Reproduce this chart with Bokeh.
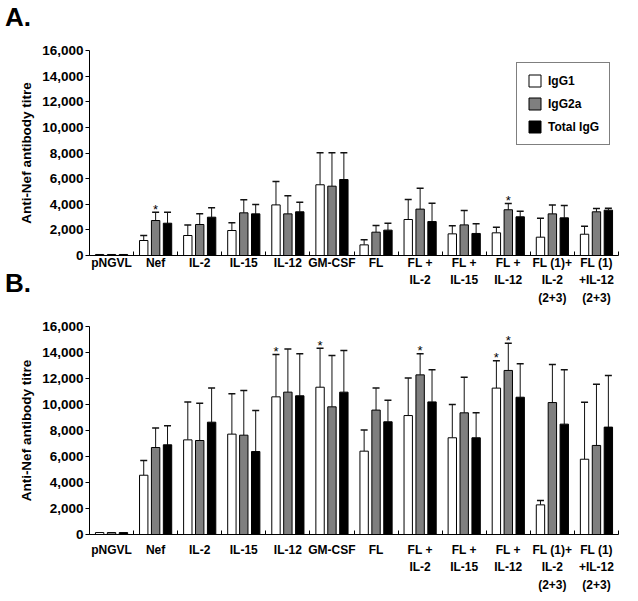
from bokeh.plotting import figure
from bokeh.models import (ColumnDataSource, Whisker, TeeHead, Legend, LegendItem,
                          FixedTicker, NumeralTickFormatter, Range1d, Div)
from bokeh.layouts import column
from bokeh.embed import file_html
from bokeh.resources import INLINE
from bokeh.core.properties import value

categories = ["pNGVL", "Nef", "IL-2", "IL-15", "IL-12", "GM-CSF", "FL",
              "FL +\nIL-2", "FL +\nIL-15", "FL +\nIL-12",
              "FL (1)+\nIL-2\n(2+3)", "FL (1)\n+IL-12\n(2+3)"]
series = ["IgG1", "IgG2a", "Total IgG"]
colors = ["#ffffff", "#7f7f7f", "#000000"]

# Panel A: means and upper SD
a_igg1 = [80, 1170, 1560, 1950, 3950, 5520, 830, 2810, 1690, 1770, 1430, 1660]
a_igg2a = [80, 2730, 2420, 3330, 3250, 5410, 1820, 3620, 2390, 3570, 3250, 3410]
a_total = [80, 2520, 2990, 3250, 3410, 5930, 1980, 2650, 1720, 3020, 2940, 3540]
a_igg1_err = [0, 390, 830, 600, 1830, 2500, 390, 1560, 630, 440, 1480, 630]
a_igg2a_err = [0, 650, 830, 1020, 1410, 2610, 520, 1630, 1120, 490, 700, 260]
a_total_err = [0, 860, 730, 730, 750, 2090, 540, 1430, 750, 440, 960, 150]
a_stars = [(1, 1), (9, 1)]  # (group index, series index)

# Panel B
b_igg1 = [150, 4560, 7280, 7720, 10590, 11330, 6410, 9150, 7440, 11260, 2280, 5790]
b_igg2a = [150, 6690, 7230, 7640, 10950, 9820, 9570, 12280, 9360, 12620, 10150, 6850]
b_total = [150, 6900, 8640, 6380, 10670, 10950, 8670, 10200, 7440, 10560, 8490, 8260]
b_igg1_err = [0, 1130, 2920, 3100, 3260, 3000, 1620, 2880, 2560, 2100, 340, 4390]
b_igg2a_err = [0, 1510, 2870, 3440, 3310, 3950, 1690, 1620, 2740, 2100, 2930, 4710]
b_total_err = [0, 1460, 2620, 3160, 3230, 3200, 1660, 2470, 1920, 2570, 4180, 3970]
b_stars = [(4, 0), (5, 0), (7, 1), (9, 0), (9, 1)]

y_ticks = [0, 2000, 4000, 6000, 8000, 10000, 12000, 14000, 16000]
panel_titles = ["A.", "B."]

FONT = "Liberation Sans"
OFFS = [-0.27, 0.0, 0.27]
BAR_W = 0.19


def make_panel(vals, errs, stars, width, height, mb_left, mb_right, mb_top, mb_bottom,
               label_standoff, with_legend):
    p = figure(width=width, height=height, output_backend="svg", toolbar_location=None,
               x_range=Range1d(0, len(categories)), y_range=Range1d(0, 16000),
               min_border_left=mb_left, min_border_right=mb_right,
               min_border_top=mb_top, min_border_bottom=mb_bottom)
    p.outline_line_color = None
    p.xgrid.visible = False
    p.ygrid.visible = False
    p.background_fill_color = "white"
    p.border_fill_alpha = 0.0

    renderers = []
    for s, (v, e) in enumerate(zip(vals, errs)):
        xs = [i + 0.5 + OFFS[s] for i in range(len(categories))]
        src = ColumnDataSource(dict(x=xs, top=v))
        r = p.vbar(x="x", top="top", width=BAR_W, source=src, fill_color=colors[s],
                   line_color="black", line_width=1)
        renderers.append(r)
        wx = [x for x, ee in zip(xs, e) if ee > 0]
        wl = [vv for vv, ee in zip(v, e) if ee > 0]
        wu = [vv + ee for vv, ee in zip(v, e) if ee > 0]
        wsrc = ColumnDataSource(dict(base=wx, lower=wl, upper=wu))
        w = Whisker(base="base", lower="lower", upper="upper", source=wsrc,
                    dimension="height", line_color="#111111", line_width=1,
                    upper_head=TeeHead(size=7, line_color="#111111", line_width=1.5),
                    lower_head=None)
        p.add_layout(w)

    sx = [i + 0.5 + OFFS[s] for i, s in stars]
    sy = [vals[s][i] + errs[s][i] for i, s in stars]
    p.text(x=sx, y=sy, text=["*"] * len(sx), text_align="center", text_baseline="alphabetic",
           y_offset=-3, text_font=value(FONT), text_font_size="13px", text_color="black")

    # axes
    xa = p.xaxis[0]
    xa.ticker = FixedTicker(ticks=[i + 0.5 for i in range(len(categories))],
                            minor_ticks=list(range(len(categories) + 1)))
    xa.major_label_overrides = {i + 0.5: c for i, c in enumerate(categories)}
    xa.major_tick_line_color = None
    xa.major_tick_in = 0
    xa.major_tick_out = 0
    xa.minor_tick_in = 4
    xa.minor_tick_out = 0
    xa.minor_tick_line_color = "black"
    xa.axis_line_color = "black"
    xa.major_label_standoff = label_standoff
    xa.major_label_text_font = FONT
    xa.major_label_text_font_style = "bold"
    xa.major_label_text_font_size = "12px"
    xa.major_label_text_color = "black"
    xa.major_label_text_line_height = 1.25

    ya = p.yaxis[0]
    ya.ticker = FixedTicker(ticks=y_ticks, minor_ticks=[])
    ya.formatter = NumeralTickFormatter(format="0,0")
    ya.major_tick_in = 0
    ya.major_tick_out = 4
    ya.major_tick_line_color = "black"
    ya.axis_line_color = "black"
    ya.major_label_standoff = 2
    ya.major_label_text_font = FONT
    ya.major_label_text_font_style = "bold"
    ya.major_label_text_font_size = "13.5px"
    ya.major_label_text_color = "black"
    ya.axis_label = "Anti-Nef antibody titre"
    ya.axis_label_text_font = FONT
    ya.axis_label_text_font_style = "bold"
    ya.axis_label_text_font_size = "13.5px"
    ya.axis_label_text_color = "black"
    ya.axis_label_standoff = 5

    if with_legend:
        items = [LegendItem(label=series[s], renderers=[renderers[s]]) for s in range(3)]
        leg = Legend(items=items, location=(427, 110), border_line_color="black",
                     border_line_width=1, padding=10, spacing=8, glyph_width=15,
                     glyph_height=15, label_standoff=6, label_height=15,
                     label_text_font=FONT, label_text_font_style="bold",
                     label_text_font_size="12px", label_text_color="black",
                     background_fill_color="white", background_fill_alpha=1.0)
        p.add_layout(leg, "center")
    return p


def panel_label(txt, margin):
    html = ('<span style="font-family:\'Liberation Sans\';font-size:26px;font-weight:bold;'
            'line-height:30px;color:black;white-space:nowrap">%s</span>' % txt)
    return Div(text=html, width=60, height=30, margin=margin,
               styles={"position": "relative", "z-index": "10", "line-height": "30px",
                       "font-size": "26px", "font-weight": "bold",
                       "font-family": "Liberation Sans", "overflow": "visible"})


div_a = panel_label(panel_titles[0], (2, 0, 0, 5))
pa = make_panel([a_igg1, a_igg2a, a_total], [a_igg1_err, a_igg2a_err, a_total_err], a_stars,
                638, 281, 89, 5, 18, 58, 0, True)
div_b = panel_label(panel_titles[1], (-45, 0, 0, 5))
pb = make_panel([b_igg1, b_igg2a, b_total], [b_igg1_err, b_igg2a_err, b_total_err], b_stars,
                638, 302, 87, 20, 28, 66, 8, False)

layout = column(div_a, pa, div_b, pb, spacing=0)
open("out.html", "w").write(file_html(layout, INLINE))
